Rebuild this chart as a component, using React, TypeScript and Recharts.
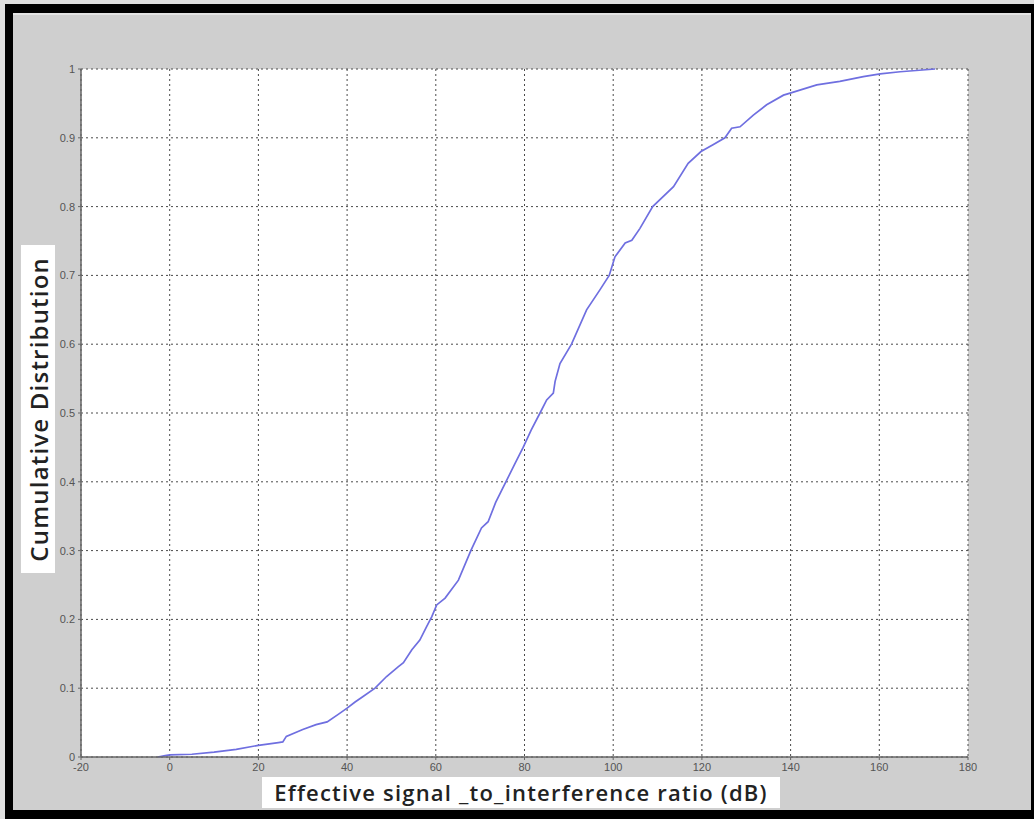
import React from "react";
import { LineChart, Line, XAxis, YAxis, CartesianGrid } from "recharts";

const sirDb = [
  -2.7, -1, 0, 5, 10, 15, 20, 24.5, 25.5, 26.3, 30, 33, 35.5, 38, 40, 41.8, 43.6, 46.3,
  48.9, 51.5, 52.7, 54.6, 56.4, 57.9, 59.1, 60.2, 62.1, 65.1, 67.9, 70.3, 71.8, 73.5,
  75.8, 77.9, 79.7, 81.5, 83.5, 85, 86.5, 86.9, 88, 90.6, 94, 97, 99.1, 100.4, 102.7,
  104.2, 106, 108.9, 113.6, 116.9, 119.8, 122.5, 125.2, 126.7, 128.6, 131.6, 134.6,
  138.4, 139.9, 145.9, 151.1, 156.4, 160.2, 164.7, 172.6,
];
const cdf = [
  0, 0.002, 0.003, 0.004, 0.007, 0.011, 0.017, 0.021, 0.022, 0.03, 0.04, 0.047, 0.051,
  0.062, 0.071, 0.08, 0.088, 0.1, 0.117, 0.131, 0.137, 0.156, 0.17, 0.189, 0.204, 0.221,
  0.231, 0.257, 0.3, 0.333, 0.342, 0.37, 0.4, 0.427, 0.45, 0.475, 0.5, 0.519, 0.529,
  0.546, 0.572, 0.6, 0.65, 0.679, 0.7, 0.727, 0.747, 0.751, 0.768, 0.8, 0.829, 0.863,
  0.88, 0.89, 0.9, 0.914, 0.916, 0.933, 0.948, 0.962, 0.965, 0.977, 0.982, 0.989, 0.993,
  0.996, 1.0,
];

const xTicks = [-20, 0, 20, 40, 60, 80, 100, 120, 140, 160, 180];
const yTicks = [0, 0.1, 0.2, 0.3, 0.4, 0.5, 0.6, 0.7, 0.8, 0.9, 1];

const xTitle = "Effective signal _to_interference ratio (dB)";
const yTitle = "Cumulative Distribution";

const data = sirDb.map((x, i) => ({ x, y: cdf[i] }));

const tickStyle = { fill: "#555", fontSize: 11, fontFamily: "'Liberation Sans', Arial, sans-serif" };

export default function App() {
  return (
    <div style={{ position: "absolute", left: 0, top: 0, width: 1034, height: 819, background: "#dedede", overflow: "hidden" }}>
      <div style={{ position: "absolute", left: 5, top: 4, right: 0, bottom: 0, background: "#000" }} />
      <div style={{ position: "absolute", left: 13, top: 13, width: 1018, height: 797, background: "#cfcfcf", borderTop: "2px solid #e4e4e4", boxSizing: "border-box" }} />
      <div style={{ position: "absolute", left: 0, top: 0 }}>
        <LineChart width={1034} height={819} data={data} margin={{ top: 69, right: 66, bottom: 42, left: 21 }}>
          <CartesianGrid fill="#fff" stroke="#4a4a4a" strokeDasharray="2 3" />
          <XAxis
            dataKey="x"
            type="number"
            domain={[-20, 180]}
            ticks={xTicks}
            interval={0}
            height={20}
            tick={tickStyle}
            tickSize={3}
            tickMargin={3}
            axisLine={{ stroke: "#666", strokeWidth: 1.5 }}
            tickLine={{ stroke: "#666" }}
          />
          <YAxis
            type="number"
            domain={[0, 1]}
            ticks={yTicks}
            interval={0}
            width={60}
            tick={tickStyle}
            tickSize={3}
            tickMargin={3}
            axisLine={{ stroke: "#666", strokeWidth: 1.5 }}
            tickLine={{ stroke: "#666" }}
          />
          <Line
            dataKey="y"
            type="linear"
            stroke="#6f6fe0"
            strokeWidth={1.7}
            dot={false}
            isAnimationActive={false}
          />
        </LineChart>
      </div>
      <div
        style={{
          position: "absolute", left: 21, top: 245, width: 34, height: 328, background: "#fff",
          display: "flex", alignItems: "center", justifyContent: "center",
        }}
      >
        <span
          style={{
            writingMode: "vertical-rl", transform: "rotate(180deg)", fontFamily: "'Open Sans', sans-serif",
            fontSize: 24, fontWeight: 600, letterSpacing: 1.2, color: "#222", whiteSpace: "nowrap",
          }}
        >
          {yTitle}
        </span>
      </div>
      <div
        style={{
          position: "absolute", left: 262, top: 777, width: 518, height: 31, background: "#fff",
          fontFamily: "'Open Sans', sans-serif", fontSize: 22, fontWeight: 600, letterSpacing: 1.2,
          color: "#222", lineHeight: "31px", textAlign: "center", whiteSpace: "nowrap",
        }}
      >
        {xTitle}
      </div>
    </div>
  );
}
